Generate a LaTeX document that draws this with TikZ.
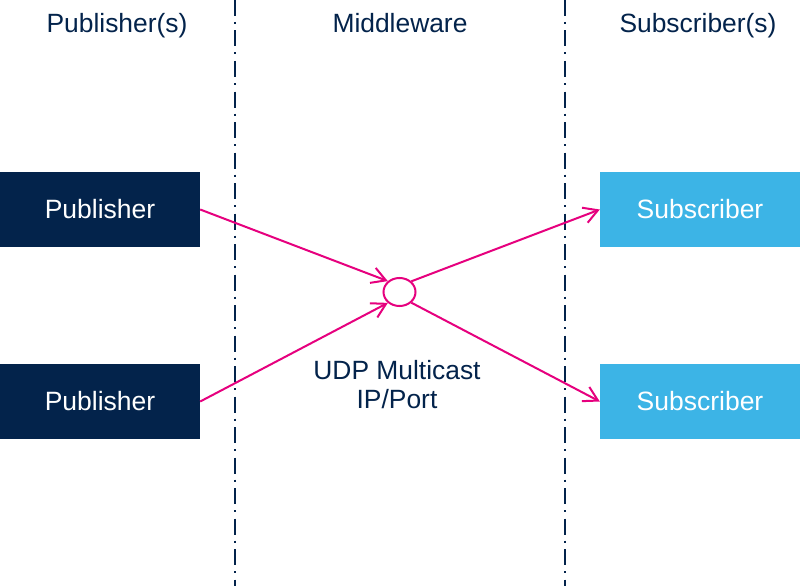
\documentclass[tikz,border=0pt]{standalone}
\usepackage{fontspec}
\setmainfont{Liberation Sans}
\usetikzlibrary{arrows.meta,shapes.geometric}
\definecolor{stdark}{HTML}{03234B}
\definecolor{stlight}{HTML}{3CB4E6}
\definecolor{stpink}{HTML}{E6007E}
\begin{document}
\begin{tikzpicture}[x=1pt,y=-1pt,
  txt/.style={font=\fontsize{26.4}{29}\selectfont, text=stdark, inner sep=0pt},
  pubbox/.style={fill=stdark, text=white, minimum width=200pt, minimum height=75pt, inner sep=0pt, font=\fontsize{26.5}{29}\selectfont},
  subbox/.style={fill=stlight, text=white, minimum width=200pt, minimum height=75pt, inner sep=0pt, font=\fontsize{26.5}{29}\selectfont},
  sep/.style={draw=stdark, line width=2pt, dash pattern=on 16pt off 6pt on 2pt off 6.5pt},
  arr/.style={draw=stpink, line width=2pt, -{Straight Barb[length=14pt,width=16pt,line width=2pt]}}
]
\useasboundingbox (0,0) rectangle (800,586);
\fill[white] (0,0) rectangle (800,586);
% separators
\coordinate (l1t) at (235,0);
\coordinate (l1b) at (235,586);
\coordinate (l2t) at (565,0);
\coordinate (l2b) at (565,586);
\draw[sep] (l1t) -- (l1b);
\draw[sep] (l2t) -- (l2b);
% headers
\node[txt, anchor=base] (h1) at (117,33) {Publisher(s)};
\node[txt, anchor=base] (h2) at (400,33) {Middleware};
\node[txt, anchor=base] (h3) at (698,33) {Subscriber(s)};
% boxes
\node[pubbox] (p1) at (100,209.5) {Publisher};
\node[pubbox] (p2) at (100,401.5) {Publisher};
\node[subbox] (s1) at (700,209.5) {Subscriber};
\node[subbox] (s2) at (700,401.5) {Subscriber};
% multicast circle
\node[ellipse, draw=stpink, line width=2pt, minimum width=32pt, minimum height=28pt, inner sep=0pt] (c) at (399.5,292) {};
\node[txt, align=center] (udp) at (397,385) {UDP Multicast\\IP/Port};
% connectors
\draw[arr] (p1.east) -- (c.137);
\draw[arr] (p2.east) -- (c.223);
\draw[arr] (c.42) -- (s1.west);
\draw[arr] (c.-42) -- (s2.west);
\end{tikzpicture}
\end{document}
